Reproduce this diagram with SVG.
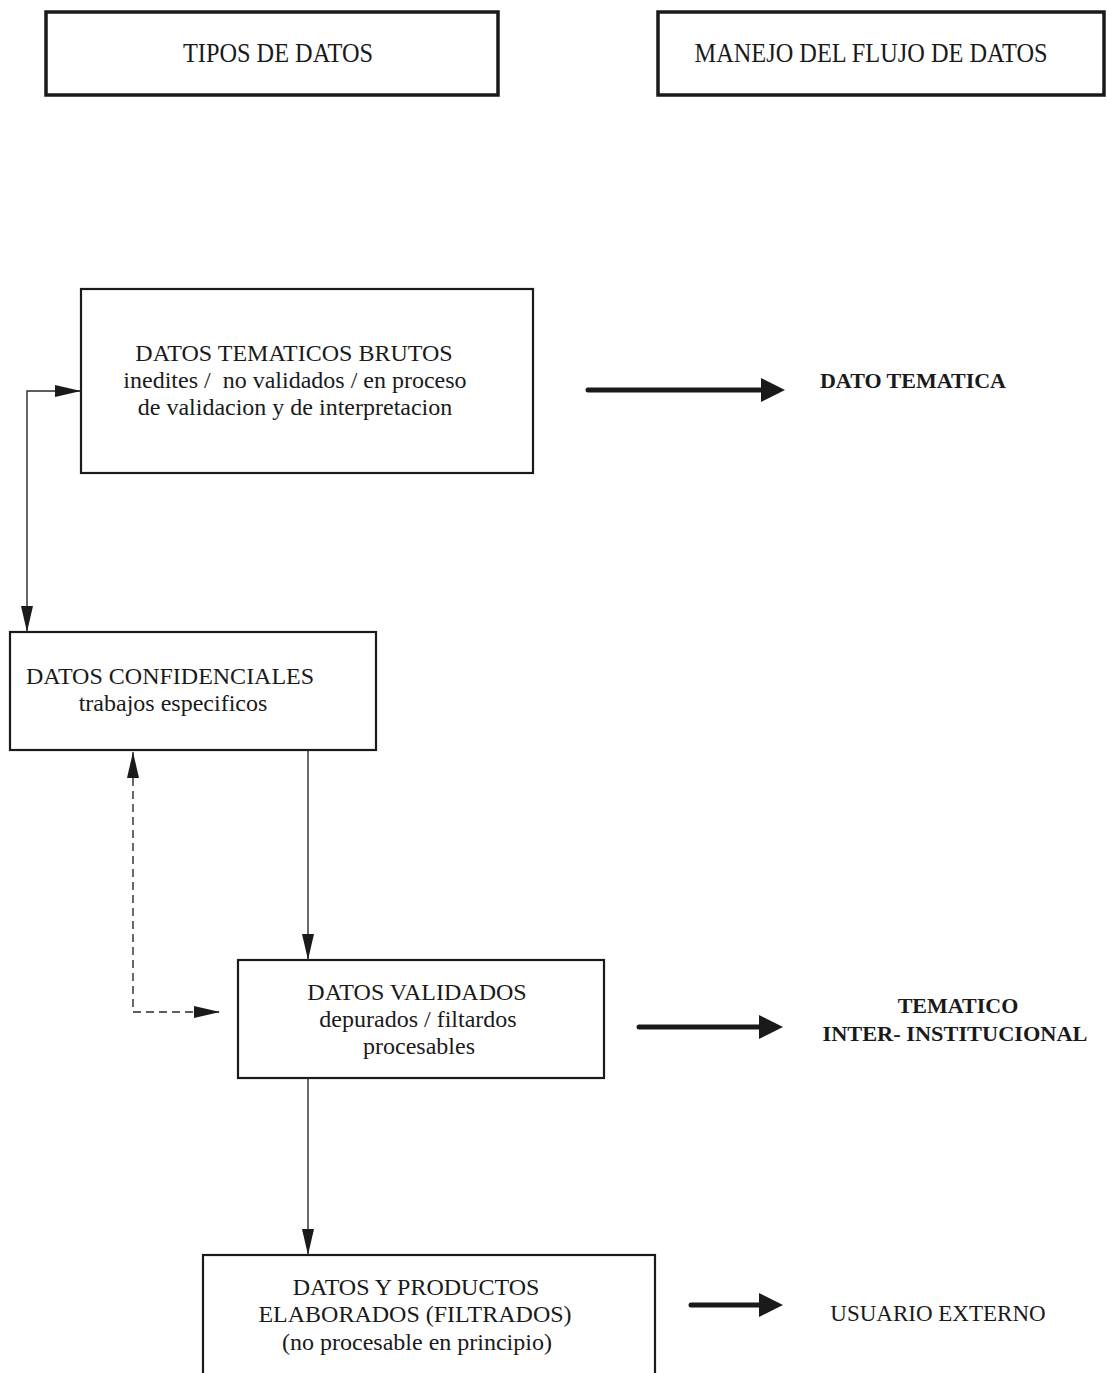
<svg xmlns="http://www.w3.org/2000/svg" width="1107" height="1373" viewBox="0 0 1107 1373">
<style>
.box{fill:#fff;stroke:#1a1a1a;stroke-width:2.2}
.hbox{fill:#fff;stroke:#1a1a1a;stroke-width:3.5}
.t{font-family:"Liberation Serif","Times New Roman",serif;font-size:24px;fill:#1a1a1a;text-anchor:middle}
.h{font-family:"Liberation Serif","Times New Roman",serif;font-size:28px;fill:#1a1a1a;text-anchor:middle}
.lb{font-family:"Liberation Serif","Times New Roman",serif;font-size:22px;fill:#1a1a1a;text-anchor:middle;font-weight:bold}
.lr{font-family:"Liberation Serif","Times New Roman",serif;font-size:23px;fill:#1a1a1a;text-anchor:middle}
.thin{fill:none;stroke:#2a2a2a;stroke-width:1.4}
.dash{fill:none;stroke:#2a2a2a;stroke-width:1.4;stroke-dasharray:8,5}
.thick{fill:none;stroke:#1a1a1a;stroke-width:5;stroke-linecap:round}
</style>
<defs>
<marker id="a" viewBox="0 0 26 12" refX="26" refY="6" markerWidth="26" markerHeight="12" markerUnits="userSpaceOnUse" orient="auto-start-reverse">
<path d="M0,0 L26,6 L0,12 Z" fill="#1a1a1a"/>
</marker>
</defs>
<g id="tipos">
<rect class="hbox" x="46" y="12" width="452" height="83"/>
<text class="h" x="278" y="62" textLength="190" lengthAdjust="spacingAndGlyphs">TIPOS DE DATOS</text>
</g>
<g id="manejo">
<rect class="hbox" x="658" y="12" width="446" height="83"/>
<text class="h" x="871" y="62" textLength="353" lengthAdjust="spacingAndGlyphs">MANEJO DEL FLUJO DE DATOS</text>
</g>
<g id="brutos">
<rect class="box" x="81" y="289" width="452" height="184"/>
<text class="t" x="294" y="361">DATOS TEMATICOS BRUTOS</text>
<text class="t" x="295" y="388" xml:space="preserve">inedites /  no validados / en proceso</text>
<text class="t" x="295" y="415">de validacion y de interpretacion</text>
</g>
<g id="confidenciales">
<rect class="box" x="10" y="632" width="366" height="118"/>
<text class="t" x="170" y="684">DATOS CONFIDENCIALES</text>
<text class="t" x="173" y="711">trabajos especificos</text>
</g>
<g id="validados">
<rect class="box" x="238" y="960" width="366" height="118"/>
<text class="t" x="417" y="1000">DATOS VALIDADOS</text>
<text class="t" x="418" y="1027">depurados / filtardos</text>
<text class="t" x="419" y="1054">procesables</text>
</g>
<g id="elaborados">
<rect class="box" x="203" y="1255" width="452" height="130"/>
<text class="t" x="416" y="1295">DATOS Y PRODUCTOS</text>
<text class="t" x="415" y="1322">ELABORADOS (FILTRADOS)</text>
<text class="t" x="417" y="1350">(no procesable en principio)</text>
</g>
<g id="dato-tematica"><text class="lb" x="913" y="388">DATO TEMATICA</text></g>
<g id="inter"><text class="lb" x="958" y="1013">TEMATICO</text><text class="lb" x="955" y="1041" textLength="265" lengthAdjust="spacingAndGlyphs">INTER- INSTITUCIONAL</text></g>
<g id="usuario"><text class="lr" x="938" y="1321">USUARIO EXTERNO</text></g>
<g id="connectors">
<polyline class="thin" points="81,391 27,391 27,632" marker-start="url(#a)" marker-end="url(#a)"/>
<line class="thin" x1="308" y1="750" x2="308" y2="960" marker-end="url(#a)"/>
<polyline class="dash" points="133,752 133,1012 220,1012" marker-start="url(#a)" marker-end="url(#a)"/>
<line class="thin" x1="308" y1="1078" x2="308" y2="1255" marker-end="url(#a)"/>
<line class="thick" x1="588" y1="390" x2="765" y2="390"/>
<path d="M761,378 L785,390 L761,402 Z" fill="#1a1a1a"/>
<line class="thick" x1="639" y1="1027" x2="763" y2="1027"/>
<path d="M759,1015 L783,1027 L759,1039 Z" fill="#1a1a1a"/>
<line class="thick" x1="691" y1="1305" x2="763" y2="1305"/>
<path d="M759,1293 L783,1305 L759,1317 Z" fill="#1a1a1a"/>
</g>
</svg>
